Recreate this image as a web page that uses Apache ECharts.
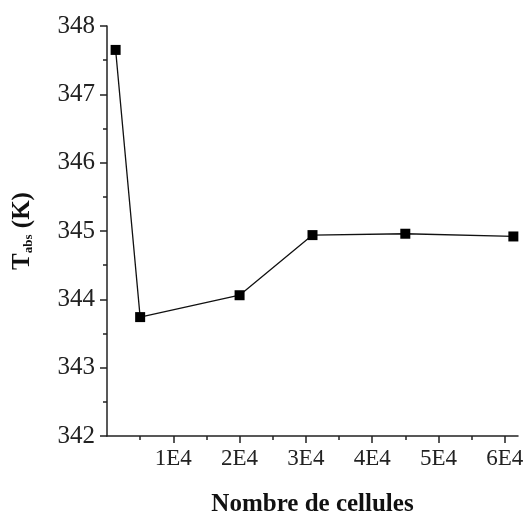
<!DOCTYPE html>
<html><head><meta charset="utf-8">
<script src="https://cdn.jsdelivr.net/npm/echarts@6/dist/echarts.min.js"></script>
<style>html,body{margin:0;padding:0;background:#fff}#c{width:528px;height:518px}</style>
</head><body><div id="c"></div>
<script>
const cells = [1300, 5000, 20000, 31000, 45000, 61300];
const tabs = [347.65, 343.74, 344.06, 344.94, 344.96, 344.92];
const xMajorTicks = [10000, 20000, 30000, 40000, 50000, 60000];
const xMinorTicks = [5000, 15000, 25000, 35000, 45000, 55000];
const yMinorTicks = [342.5, 343.5, 344.5, 345.5, 346.5, 347.5];

const font = '"Liberation Serif", "Times New Roman", serif';
const chart = echarts.init(document.getElementById('c'));
chart.setOption({
  animation: false,
  grid: {left: 107, top: 26, right: 10, bottom: 82, outerBoundsMode: 'none', containLabel: false},
  xAxis: [{
    type: 'value', min: 0, max: 62000,
    name: 'Nombre de cellules', nameLocation: 'middle', nameGap: 56,
    nameTextStyle: {fontFamily: font, fontWeight: 'bold', fontSize: 25, color: '#111'},
    axisLine: {lineStyle: {color: '#222', width: 1.5}},
    axisTick: {show: true, length: 7, inside: false, customValues: xMajorTicks, lineStyle: {color: '#222', width: 1.5}},
    axisLabel: {customValues: xMajorTicks, formatter: v => (v / 10000) + 'E4', fontFamily: font, fontSize: 23, color: '#222', margin: 11},
    splitLine: {show: false}
  }, {
    type: 'value', min: 0, max: 62000, position: 'bottom',
    axisLine: {show: false},
    axisTick: {show: true, length: 4, customValues: xMinorTicks, lineStyle: {color: '#222', width: 1.5}},
    axisLabel: {show: false}, splitLine: {show: false}
  }],
  yAxis: [{
    type: 'value', min: 342, max: 348, interval: 1,
    name: 'T{sub|abs} (K)', nameLocation: 'middle', nameGap: 72, nameRotate: 90,
    nameTextStyle: {fontFamily: font, fontWeight: 'bold', fontSize: 25, color: '#111',
      rich: {sub: {fontFamily: font, fontWeight: 'bold', fontSize: 13, verticalAlign: 'bottom', padding: [12, 0, 0, 0]}}},
    axisLine: {show: true, lineStyle: {color: '#222', width: 1.5}},
    axisTick: {show: true, length: 7, lineStyle: {color: '#222', width: 1.5}},
    axisLabel: {fontFamily: font, fontSize: 25, color: '#222', margin: 12},
    splitLine: {show: false}
  }, {
    type: 'value', min: 342, max: 348, position: 'left',
    axisLine: {show: false},
    axisTick: {show: true, length: 4, customValues: yMinorTicks, lineStyle: {color: '#222', width: 1.5}},
    axisLabel: {show: false}, splitLine: {show: false}
  }],
  series: [{
    type: 'line',
    data: cells.map((c, i) => [c, tabs[i]]),
    symbol: 'rect', symbolSize: 10,
    itemStyle: {color: '#000'},
    lineStyle: {color: '#111', width: 1.3}
  }]
});
</script></body></html>
